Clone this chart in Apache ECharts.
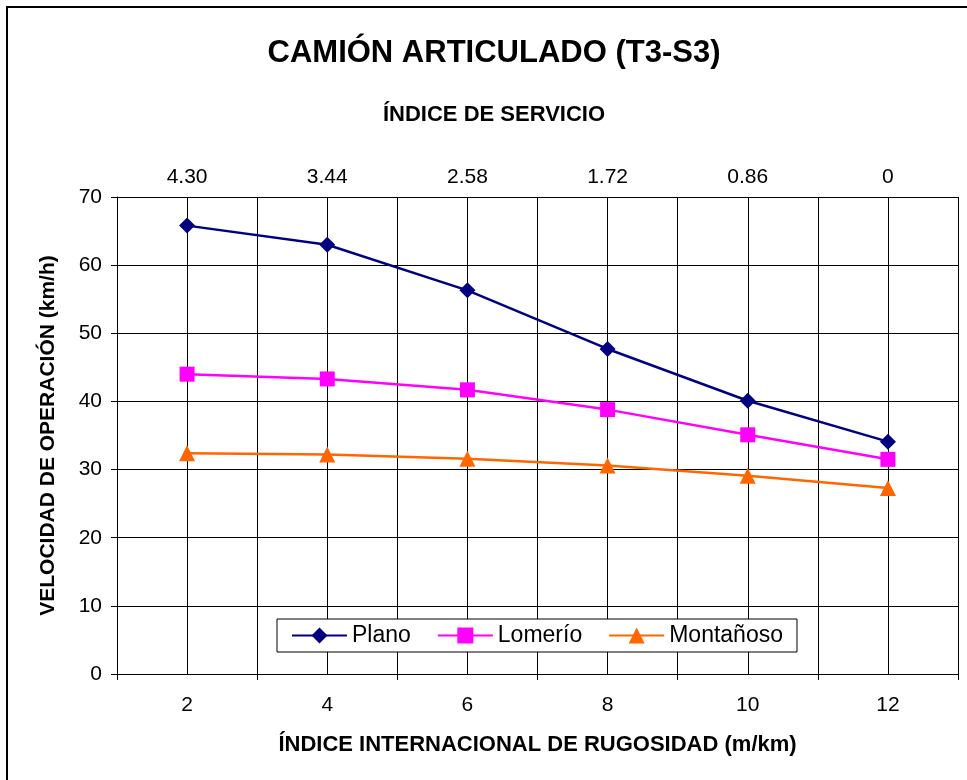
<!DOCTYPE html>
<html>
<head>
<meta charset="utf-8">
<script src="https://cdn.jsdelivr.net/npm/echarts@6/dist/echarts.min.js"></script>
<style>
    html, body { margin: 0; padding: 0; background: #fff; }
    #main { width: 967px; height: 780px; }
</style>
</head>
<body>
<div id="main"></div>
<script>
var FONT = 'Liberation Sans, Arial, sans-serif';

// eje inferior: IRI (m/km), eje superior: indice de servicio
var iri = ['2', '4', '6', '8', '10', '12'];
var indiceServicio = ['4.30', '3.44', '2.58', '1.72', '0.86', '0'];

var plano = [65.8, 63.0, 56.3, 47.7, 40.1, 34.1];
var lomerio = [44.0, 43.3, 41.7, 38.8, 35.1, 31.5];
var montanoso = [32.4, 32.2, 31.6, 30.6, 29.1, 27.3];

var chart = echarts.init(document.getElementById('main'));

var option = {
    backgroundColor: '#fff',
    animation: false,
    textStyle: { fontFamily: FONT },
    title: [
        {
            text: 'CAMIÓN ARTICULADO (T3-S3)',
            left: 494,
            top: 38,
            padding: 0,
            textAlign: 'center',
            textStyle: { fontFamily: FONT, fontSize: 31, fontWeight: 'bold', color: '#000' }
        },
        {
            text: 'ÍNDICE DE SERVICIO',
            left: 494,
            top: 104,
            padding: 0,
            textAlign: 'center',
            textStyle: { fontFamily: FONT, fontSize: 22, fontWeight: 'bold', color: '#000' }
        }
    ],
    graphic: [{
        type: 'rect',
        shape: { x: 7, y: 7, width: 1000, height: 1000 },
        style: { fill: 'none', stroke: '#000', lineWidth: 2 },
        z: 100
    }],
    legend: {
        left: 277,
        top: 619,
        padding: [5, 14],
        itemWidth: 55,
        itemHeight: 20,
        itemGap: 26,
        backgroundColor: '#fff',
        borderColor: '#000',
        borderWidth: 1,
        textStyle: { fontFamily: FONT, fontSize: 23, color: '#000' },
        data: ['Plano', 'Lomerío', 'Montañoso']
    },
    grid: {
        left: 117,
        right: 9,
        top: 197,
        bottom: 106
    },
    xAxis: [
        {
            type: 'category',
            position: 'bottom',
            data: iri,
            boundaryGap: true,
            name: 'ÍNDICE INTERNACIONAL DE RUGOSIDAD (m/km)',
            nameLocation: 'middle',
            nameGap: 60,
            nameTextStyle: { fontFamily: FONT, fontSize: 22, fontWeight: 'bold', color: '#000' },
            axisLine: { show: true, lineStyle: { color: '#000', width: 1 } },
            axisTick: { show: true, length: 6, lineStyle: { color: '#000' } },
            axisLabel: { margin: 21, fontFamily: FONT, fontSize: 21, color: '#000' },
            splitLine: { show: false }
        },
        {
            type: 'category',
            position: 'top',
            data: indiceServicio,
            boundaryGap: true,
            axisLine: { show: false },
            axisTick: { show: false },
            axisLabel: { margin: 9, fontFamily: FONT, fontSize: 21, color: '#000' },
            splitLine: { show: false }
        },
        {
            // solo para la cuadricula vertical cada media division
            type: 'value',
            min: 0,
            max: 12,
            interval: 1,
            show: true,
            axisLine: { show: false },
            axisTick: { show: false },
            axisLabel: { show: false },
            splitLine: { show: true, lineStyle: { color: '#000', width: 1 } }
        }
    ],
    yAxis: {
        type: 'value',
        min: 0,
        max: 70,
        interval: 10,
        name: 'VELOCIDAD DE OPERACIÓN (km/h)',
        nameLocation: 'middle',
        nameGap: 58,
        nameTextStyle: { fontFamily: FONT, fontSize: 21, fontWeight: 'bold', color: '#000' },
        axisLine: { show: true, lineStyle: { color: '#000', width: 1 } },
        axisTick: { show: true, length: 6, lineStyle: { color: '#000' } },
        axisLabel: { margin: 15, fontFamily: FONT, fontSize: 21, color: '#000' },
        splitLine: { show: true, lineStyle: { color: '#000', width: 1 } }
    },
    series: [
        {
            name: 'Plano',
            type: 'line',
            xAxisIndex: 0,
            data: plano,
            symbol: 'diamond',
            symbolSize: 16,
            color: '#000080',
            lineStyle: { width: 2.5, color: '#000080' },
            itemStyle: { color: '#000080' }
        },
        {
            name: 'Lomerío',
            type: 'line',
            xAxisIndex: 0,
            data: lomerio,
            symbol: 'rect',
            symbolSize: 15,
            color: '#FF00FF',
            lineStyle: { width: 2.5, color: '#FF00FF' },
            itemStyle: { color: '#FF00FF' }
        },
        {
            name: 'Montañoso',
            type: 'line',
            xAxisIndex: 0,
            data: montanoso,
            symbol: 'triangle',
            symbolSize: 16,
            color: '#FF6600',
            lineStyle: { width: 2.5, color: '#FF6600' },
            itemStyle: { color: '#FF6600' }
        }
    ]
};

chart.setOption(option);
</script>
</body>
</html>
